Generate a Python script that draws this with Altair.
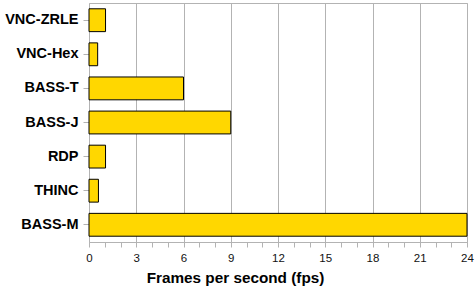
import altair as alt
import pandas as pd

systems = ["VNC-ZRLE", "VNC-Hex", "BASS-T", "BASS-J", "RDP", "THINC", "BASS-M"]
fps = [1.05, 0.55, 6.0, 9.0, 1.05, 0.6, 24.0]
tick_values = list(range(0, 25))

df = pd.DataFrame({"system": systems, "fps": fps})

gray = "#b3b3b3"

chart = alt.Chart(df).mark_bar(
    color="#FFD700", stroke="black", strokeWidth=1
).encode(
    x=alt.X("fps:Q",
            scale=alt.Scale(domain=[0, 24], nice=False),
            axis=alt.Axis(
                title="Frames per second (fps)",
                values=tick_values,
                labelExpr="datum.value % 3 === 0 ? datum.label : ''",
                gridOpacity={"condition": {"test": "datum.value % 3 === 0", "value": 1}, "value": 0},
                gridColor=gray,
                domainColor=gray,
                tickColor=gray,
                tickSize=5,
                labelFlush=False,
                labelFont="Liberation Sans",
                labelFontSize=11.5,
                labelColor="#111111",
                labelPadding=5,
                titleFont="Liberation Sans",
                titleFontSize=15.3,
                titleFontWeight="bold",
                titleColor="black",
                titlePadding=7,
                titleX=146,
                titleAlign="center",
            )),
    y=alt.Y("system:N", sort=None,
            scale=alt.Scale(paddingInner=0.33, paddingOuter=0.17),
            axis=alt.Axis(
                title=None,
                domain=False,
                grid=False,
                tickColor=gray,
                tickSize=6,
                labelFont="Liberation Sans",
                labelFontSize=14.5,
                labelFontWeight="bold",
                labelColor="black",
                labelPadding=5,
            )),
).properties(
    width=378,
    height=239,
    autosize=alt.AutoSizeParams(type="none"),
    padding={"left": 89, "top": 3, "right": 8, "bottom": 48},
).configure_view(stroke=gray, strokeWidth=1)

chart.save("out.html", embed_options={"renderer": "svg", "actions": False})
